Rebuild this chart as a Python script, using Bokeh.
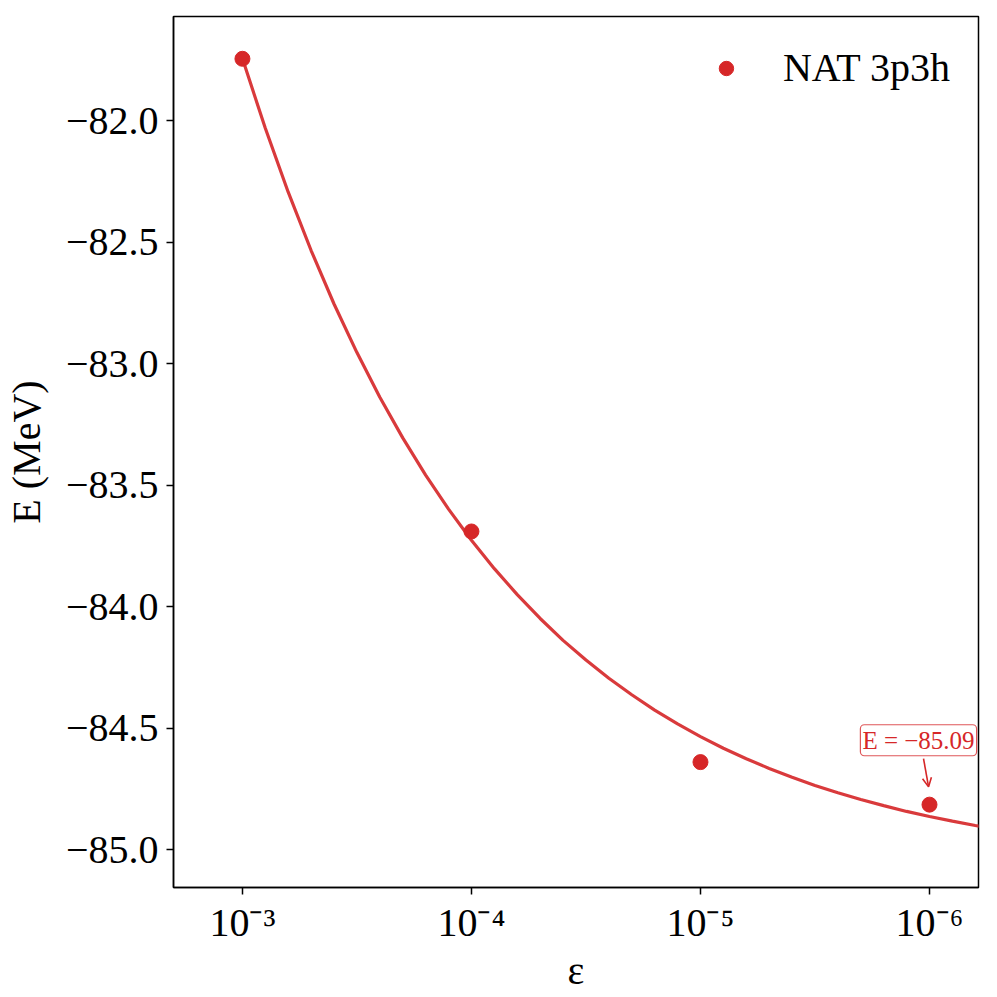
from bokeh.plotting import figure
from bokeh.models import (Range1d, FixedTicker, CustomJSTickFormatter, Label,
                          Arrow, OpenHead, Legend, LegendItem)
from bokeh.embed import file_html
from bokeh.resources import INLINE

# ---- data ----
eps_pts = [1e-3, 1e-4, 1e-5, 1e-6]
E_pts = [-81.746, -83.691, -84.640, -84.815]

# extrapolation curve (exponent of epsilon, energy)
fit_exp = [-3.0, -3.1, -3.2, -3.3, -3.4, -3.5, -3.6, -3.7, -3.8, -3.9,
           -4.0, -4.1, -4.2, -4.3, -4.4, -4.5, -4.6, -4.7, -4.8, -4.9,
           -5.0, -5.1, -5.2, -5.3, -5.4, -5.5, -5.6, -5.7, -5.8, -5.9,
           -6.0, -6.1, -6.2, -6.218]
fit_E = [-81.745, -82.032, -82.295, -82.535, -82.755, -82.955, -83.139, -83.306,
         -83.459, -83.599, -83.727, -83.844, -83.951, -84.049, -84.139, -84.220,
         -84.295, -84.363, -84.426, -84.483, -84.535, -84.583, -84.626, -84.666,
         -84.702, -84.736, -84.766, -84.794, -84.819, -84.843, -84.864, -84.883,
         -84.901, -84.904]
fit_eps = [10 ** e for e in fit_exp]

x_ticks = [1e-3, 1e-4, 1e-5, 1e-6]
y_ticks = [-82.0, -82.5, -83.0, -83.5, -84.0, -84.5, -85.0]

series_label = "NAT 3p3h"
annot_text = "E = \u221285.09"
annot_pos = (10 ** -5.952, -84.55)
arrow_start = (10 ** -5.974, -84.626)
arrow_end = (10 ** -5.996, -84.742)

RED = "#d62728"
LINE_RED = "#d93a3c"
FONT = "Liberation Serif"

p = figure(width=990, height=996, x_axis_type="log",
           x_range=Range1d(10 ** -2.699, 10 ** -6.214),
           y_range=Range1d(-85.156, -81.572),
           output_backend="svg", toolbar_location=None,
           min_border_left=173, min_border_right=12,
           min_border_top=16, min_border_bottom=109)

p.xgrid.visible = False
p.ygrid.visible = False
p.outline_line_color = "black"
p.outline_line_width = 1.5
p.background_fill_color = "white"
p.border_fill_color = "white"

line_r = p.line(fit_eps, fit_E, line_color=LINE_RED, line_width=3.2)
pts_r = p.scatter(eps_pts, E_pts, size=15, fill_color=RED, line_color=RED)

# axes
xa = p.xaxis[0]
xa.ticker = FixedTicker(ticks=x_ticks)
xa.formatter = CustomJSTickFormatter(code="""
const sup = {'-':'\\u207B','0':'\\u2070','1':'\\u00B9','2':'\\u00B2','3':'\\u00B3',
             '4':'\\u2074','5':'\\u2075','6':'\\u2076','7':'\\u2077','8':'\\u2078','9':'\\u2079'};
const e = Math.round(Math.log10(tick));
return '10' + String(e).split('').map(c => sup[c]).join('');
""")
xa.axis_label = "\u03b5"

ya = p.yaxis[0]
ya.ticker = FixedTicker(ticks=y_ticks)
ya.formatter = CustomJSTickFormatter(code="""
return (tick < 0 ? '\\u2212' : '') + Math.abs(tick).toFixed(1);
""")
ya.axis_label = "E (MeV)"

for ax in (xa, ya):
    ax.minor_tick_line_color = None
    ax.major_tick_in = 0
    ax.major_tick_out = 7
    ax.major_tick_line_width = 1.5
    ax.axis_line_width = 1.5
    ax.major_label_text_font = FONT
    ax.major_label_text_font_size = "40px"
    ax.major_label_text_color = "black"
    ax.axis_label_text_font = FONT
    ax.axis_label_text_font_size = "40px"
    ax.axis_label_text_font_style = "normal"
    ax.axis_label_text_color = "black"
    ax.major_label_standoff = 8

xa.major_label_standoff = 5
xa.axis_label_standoff = 0
ya.axis_label_standoff = 14

# annotation
lab = Label(x=annot_pos[0], y=annot_pos[1], text=annot_text,
            text_font=FONT, text_font_size="25px", text_color=RED,
            text_align="center", text_baseline="middle",
            background_fill_color="white", background_fill_alpha=1.0,
            border_line_color=LINE_RED, border_line_width=1.2,
            border_line_alpha=0.85, padding=2, border_radius=4)
p.add_layout(lab)
arr = Arrow(end=OpenHead(size=9, line_color=RED, line_width=1.6),
            x_start=arrow_start[0], y_start=arrow_start[1],
            x_end=arrow_end[0], y_end=arrow_end[1],
            line_color=RED, line_width=1.6)
p.add_layout(arr)

legend = Legend(items=[LegendItem(label=series_label, renderers=[pts_r])],
                location="top_right", border_line_color=None,
                background_fill_alpha=0.0, label_text_font=FONT,
                label_text_color="black",
                label_text_font_size="40px", glyph_width=36, glyph_height=36,
                label_standoff=39, margin=28, padding=8)
p.add_layout(legend)

open("out.html", "w").write(file_html(p, INLINE))
